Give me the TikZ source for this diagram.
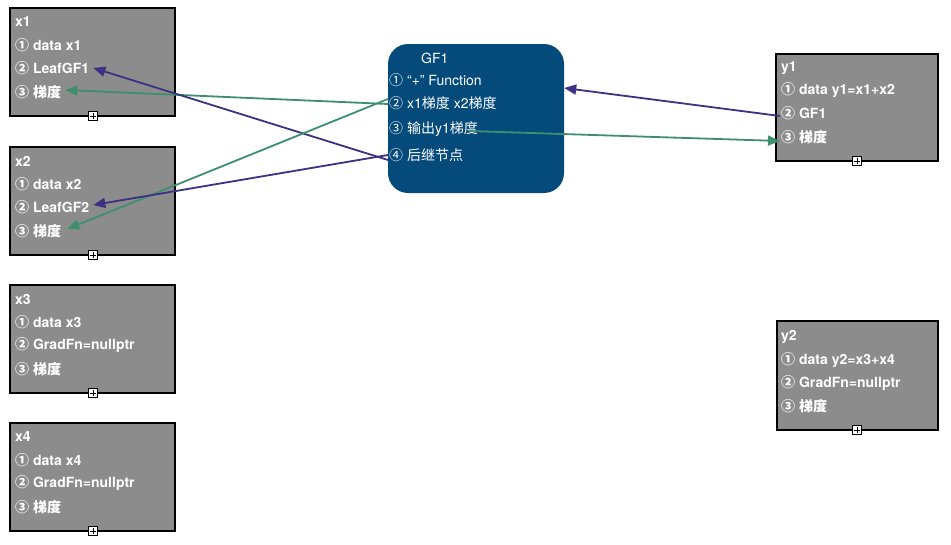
\documentclass[tikz,border=0pt]{standalone}
\usepackage{fontspec}
\setmainfont{TeX Gyre Heros}
\newfontfamily\cjk{Noto Sans CJK SC}
\usetikzlibrary{arrows.meta}
\definecolor{boxgray}{HTML}{8C8C8C}
\definecolor{gfblue}{HTML}{044A7A}
\definecolor{arrblue}{HTML}{3B3282}
\definecolor{arrgreen}{HTML}{3E8F6F}
\tikzset{
 box/.style={draw=black,line width=2.2pt,fill=boxgray,inner sep=0},
 ln/.style={anchor=west,text=white,font=\bfseries\fontsize{14}{16}\selectfont,inner sep=1pt},
 gln/.style={anchor=west,text=white,font=\fontsize{14}{16}\selectfont,inner sep=1pt},
 plusbox/.style={draw=black,fill=white,line width=0.6pt,minimum size=9pt,inner sep=0,
   path picture={\draw[line width=0.6pt] ([xshift=-3pt]path picture bounding box.center)--([xshift=3pt]path picture bounding box.center) ([yshift=-3pt]path picture bounding box.center)--([yshift=3pt]path picture bounding box.center);}},
 ab/.style={draw=arrblue,line width=1.8pt,-{Triangle[length=12pt,width=10pt]}},
 ag/.style={draw=arrgreen,line width=1.8pt,-{Triangle[length=12pt,width=10pt]}}
}
\newcommand{\cjb}[1]{{\cjk\bfseries #1}}
\newcommand{\cjn}[1]{{\cjk #1}}
\begin{document}
\begin{tikzpicture}[x=1pt,y=-1pt]
\useasboundingbox (0,0) rectangle (951,544);
% left boxes
\foreach \n/\yt/\d/\g in {x1/8/data x1/LeafGF1, x2/147/data x2/LeafGF2, x3/285/data x3/GradFn=nullptr, x4/423/data x4/GradFn=nullptr}{
 \node[box,minimum width=165pt,minimum height=108pt] (\n) at (92.5,\yt+54) {};
 \node[plusbox] (\n p) at (93,\yt+108) {};
 \node[ln] (\n t) at (14,\yt+14) {\n};
 \node[ln] (\n a) at (14,\yt+37) {\cjb{①} \d};
 \node[ln] (\n b) at (14,\yt+60) {\cjb{②} \g};
 \node[ln] (\n c) at (14,\yt+84) {\cjb{③} \cjb{梯度}};
}
% right boxes
\node[box,minimum width=162pt,minimum height=107pt] (y1) at (857,107.5) {};
\node[plusbox] (y1p) at (857,161) {};
\node[ln] (y1t) at (780,68) {y1};
\node[ln] (y1a) at (780,90) {\cjb{①} data y1=x1+x2};
\node[ln] (y1b) at (780,113) {\cjb{②} GF1};
\node[ln] (y1c) at (780,137) {\cjb{③} \cjb{梯度}};
\node[box,minimum width=161pt,minimum height=109pt] (y2) at (857.5,375.5) {};
\node[plusbox] (y2p) at (857,430) {};
\node[ln] (y2t) at (780,337) {y2};
\node[ln] (y2a) at (780,360) {\cjb{①} data y2=x3+x4};
\node[ln] (y2b) at (780,383) {\cjb{②} GradFn=nullptr};
\node[ln] (y2c) at (780,406) {\cjb{③} \cjb{梯度}};
% GF1
\node[fill=gfblue,rounded corners=20pt,minimum width=176pt,minimum height=149pt,inner sep=0] (gf) at (476,118.5) {};
\node[gln] (gft) at (420,58) {GF1};
\node[gln] (gfa) at (388,80) {\cjn{①} “+” Function};
\node[gln] (gfb) at (388,103) {\cjn{②} x1\cjn{梯度} x2\cjn{梯度}};
\node[gln] (gfc) at (388,129) {\cjn{③} \cjn{输出}y1\cjn{梯度}};
\node[gln] (gfd) at (388,155) {\cjn{④} \cjn{后继节点}};
% arrows
\draw[ag] ([yshift=-1pt]gfb.west) -- ([xshift=3pt,yshift=2pt]x1c.east);
\draw[ab] ([yshift=-5pt]gfd.west) -- ([xshift=3pt]x1b.east);
\draw[ag] ([yshift=4pt]gfb.west) -- ([xshift=5pt,yshift=2pt]x2c.east);
\draw[ab] (gfd.west) -- ([xshift=3pt,yshift=2pt]x2b.east);
\draw[ab] ([yshift=-3pt]y1b.west) -- (gf.east |- 0,88);
\draw[ag] ([xshift=-10pt,yshift=-2pt]gfc.east) -- ([yshift=-4pt]y1c.west);
\end{tikzpicture}
\end{document}
